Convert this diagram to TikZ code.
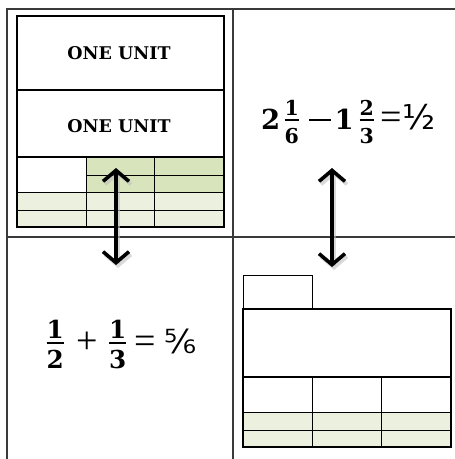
\documentclass[tikz,border=0pt]{standalone}
\usepackage{fontspec}
\setmainfont{Liberation Serif}
\newfontfamily\fracfont{DejaVu Sans}
\newfontfamily\unitfont{DejaVu Serif}
\usetikzlibrary{arrows.meta}
\definecolor{darkgreen}{HTML}{D7E4BC}
\definecolor{lightgreen}{HTML}{EBF1DE}
\definecolor{tableline}{HTML}{3A3A3A}
% bold stacked fraction: numerator, denominator, digit size, gap above bar, gap below bar, height of bar
\newcommand{\stackfrac}[6]{\raisebox{\dimexpr#6+#4+0.8pt\relax}{%
  \unitfont\bfseries\fontsize{#3}{#3}\selectfont\offinterlineskip
  \vtop{\halign{\hfil##\hfil\cr#1\cr\noalign{\kern#4\hrule height1.6pt\kern#5}#2\cr}}}}
\newcommand{\bigdigit}[1]{{\unitfont\bfseries\fontsize{27.5}{32}\selectfont#1}}

\begin{document}
\begin{tikzpicture}[x=1pt,y=-1pt,
  thin line/.style={line width=0.8pt},
  thick box/.style={line width=1.8pt},
  unit text/.style={font=\unitfont\bfseries\fontsize{17.5}{20}\selectfont},
  dbl arrow/.style={line width=3.6pt, line join=round,
    {Straight Barb[length=11pt,width=26pt,line width=3.6pt]}-{Straight Barb[length=11pt,width=26pt,line width=3.6pt]}}]
\useasboundingbox (0,0) rectangle (455,459);

% the table
\draw[tableline, line width=1.6pt] (7,459) -- (7,9) -- (455,9);
\draw[tableline, line width=1.6pt] (233,9) -- (233,459);
\draw[tableline, line width=1.6pt] (7,237) -- (455,237);

% top left: two units and the sixths
\fill[darkgreen] (86,157) rectangle (224,192);
\fill[lightgreen] (17,192) rectangle (224,227);
\draw[thin line] (86,175) -- (224,175);
\foreach \y in {192,210}
  \draw[thin line] (17,\y) -- (224,\y);
\foreach \x in {86,154}
  \draw[thin line] (\x,157) -- (\x,227);
\draw[line width=1.1pt] (17,90) -- (224,90);
\draw[line width=1.1pt] (17,157) -- (224,157);
\draw[line width=1.3pt] (17,16) rectangle (224,227);
\node[unit text] (unitA) at (119,53) {ONE UNIT};
\node[unit text] (unitB) at (119,126) {ONE UNIT};

% top right
\node[inner sep=0pt, anchor=base west] (diffeq) at (261,129)
  {\bigdigit{2}\hspace{4.3pt}\stackfrac{1}{6}{20.5}{4pt}{7pt}{9pt}%
   \hspace{10.3pt}\raisebox{8.25pt}{\rule{22pt}{1.5pt}}\hspace{3.4pt}\bigdigit{1}%
   \hspace{5.9pt}\stackfrac{2}{3}{20.5}{4pt}{7pt}{9pt}%
   \hspace{7pt}{\fontsize{38}{44}\selectfont =}{\fracfont\fontsize{34}{40}\selectfont ½}};

% bottom left
\node[inner sep=0pt, anchor=base west] (sumeq) at (46.4,353.5)
  {\stackfrac{1}{2}{24.7}{4pt}{6pt}{10.5pt}%
   \hspace{12.4pt}{\fontsize{38}{44}\selectfont +}\hspace{11.4pt}%
   \stackfrac{1}{3}{24.7}{4pt}{6pt}{10.5pt}%
   \hspace{8.4pt}{\fontsize{38}{44}\selectfont =}\hspace{8.6pt}{\fracfont\fontsize{33}{40}\selectfont ⅚}};

% bottom right: one half and the sixths
\fill[lightgreen] (243,412) rectangle (451,447);
\draw[thin line] (243,275) rectangle (312,309);
\foreach \y in {412,430}
  \draw[thin line] (243,\y) -- (451,\y);
\foreach \x in {312,381}
  \draw[thin line] (\x,377) -- (\x,447);
\draw[thick box] (243,377) -- (451,377);
\draw[thick box] (243,309) rectangle (451,447);

% arrows
\coordinate (leftTop) at (116,168);
\coordinate (leftBot) at (116,265);
\coordinate (rightTop) at (332,168);
\coordinate (rightBot) at (332,267);
\draw[dbl arrow, black!25, opacity=0.6, transform canvas={shift={(2pt,-3pt)}}] (leftTop) -- (leftBot);
\draw[dbl arrow, black!25, opacity=0.6, transform canvas={shift={(2pt,-3pt)}}] (rightTop) -- (rightBot);
\draw[dbl arrow] (leftTop) -- (leftBot);
\draw[dbl arrow] (rightTop) -- (rightBot);
\end{tikzpicture}
\end{document}
